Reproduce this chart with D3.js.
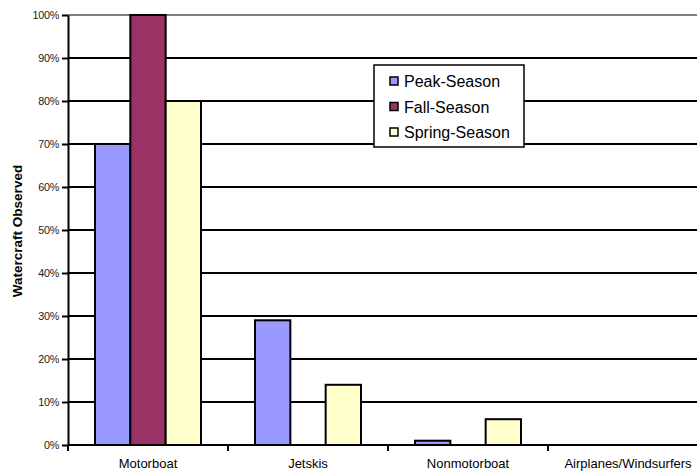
<!DOCTYPE html>
<html><head><meta charset="utf-8">
<script src="https://cdn.jsdelivr.net/npm/d3@7"></script>
<style>body{margin:0;background:#fff}svg{display:block}text{font-family:"Liberation Sans",Arial,sans-serif}</style>
</head><body><div id="chart"></div>
<script>
const categories = ["Motorboat", "Jetskis", "Nonmotorboat", "Airplanes/Windsurfers"];
const seriesNames = ["Peak-Season", "Fall-Season", "Spring-Season"];
const peakSeason = [70, 29, 1, 0];
const fallSeason = [100, 0, 0, 0];
const springSeason = [80, 14, 6, 0];
const seriesColors = ["#9999FF", "#993366", "#FFFFCC"];
const yTicks = [0,10,20,30,40,50,60,70,80,90,100];
const yTitle = "Watercraft Observed";

const W = 697, H = 474;
const m = {left: 68, top: 15, bottom: 29};
const plotRight = 708;
const svg = d3.select("#chart").append("svg").attr("width", W).attr("height", H);
const x = d3.scaleBand().domain(categories).range([m.left, plotRight]).paddingInner(0).paddingOuter(0);
const y = d3.scaleLinear().domain([0, 100]).range([H - m.bottom, m.top]);
const groupW = 106;
const x1b = d3.scaleBand().domain(seriesNames).range([(x.bandwidth()-groupW)/2, (x.bandwidth()+groupW)/2]);

// gridlines
svg.append("g").selectAll("line").data(yTicks.filter(d => d > 0)).join("line")
  .attr("x1", m.left).attr("x2", plotRight)
  .attr("y1", d => Math.round(y(d))).attr("y2", d => Math.round(y(d)))
  .attr("stroke", d => d === 100 ? "#808080" : "#000").attr("stroke-width", 2);

// bars
const data = [peakSeason, fallSeason, springSeason];
const g = svg.append("g");
seriesNames.forEach((s, i) => {
  g.selectAll(null).data(categories.map((c, j) => ({c, v: data[i][j]})).filter(d => d.v > 0)).join("rect")
    .attr("x", d => x(d.c) + x1b(s))
    .attr("y", d => y(d.v))
    .attr("width", x1b.bandwidth())
    .attr("height", d => y(0) - y(d.v))
    .attr("fill", seriesColors[i]).attr("stroke", "#000").attr("stroke-width", 2);
});

// y axis
const yAxis = d3.axisLeft(y).tickValues(yTicks).tickFormat(d => d + "%").tickSize(6).tickSizeOuter(0);
const ya = svg.append("g").attr("transform", `translate(${m.left},0)`).call(yAxis);
ya.select(".domain").attr("stroke", "#000").attr("stroke-width", 2);
ya.selectAll(".tick line").attr("stroke", "#000").attr("stroke-width", 2);
ya.selectAll(".tick text").attr("font-size", 10.8).attr("fill", "#222").attr("x", -9).attr("letter-spacing", -0.3);

// x axis
const xa = svg.append("g").attr("transform", `translate(0,${y(0)})`);
xa.append("line").attr("x1", m.left).attr("x2", plotRight).attr("stroke", "#000").attr("stroke-width", 2);
xa.selectAll(".tk").data(categories).join("line").attr("class", "tk")
  .attr("x1", d => x(d)).attr("x2", d => x(d)).attr("y1", 0).attr("y2", 6)
  .attr("stroke", "#000").attr("stroke-width", 2);
xa.selectAll(".lb").data(categories).join("text").attr("class", "lb")
  .attr("x", d => x(d) + x.bandwidth()/2).attr("y", 23)
  .attr("text-anchor", "middle").attr("font-size", 13).attr("fill", "#000").text(d => d);

// y title
svg.append("text").attr("transform", `translate(22,${(y(0)+y(100))/2 + 1}) rotate(-90)`)
  .attr("text-anchor", "middle").attr("font-size", 13.5).attr("font-weight", "bold").text(yTitle);

// legend
const lg = svg.append("g").attr("transform", "translate(374,65)");
lg.append("rect").attr("width", 150).attr("height", 82).attr("fill", "#fff").attr("stroke", "#000").attr("stroke-width", 1.5);
seriesNames.forEach((s, i) => {
  const yy = 17 + i * 25.5;
  lg.append("rect").attr("x", 16).attr("y", yy - 5).attr("width", 8).attr("height", 8)
    .attr("fill", seriesColors[i]).attr("stroke", "#000").attr("stroke-width", 1.5);
  lg.append("text").attr("x", 30).attr("y", yy + 5).attr("font-size", 16).attr("fill", "#000").text(s);
});
</script></body></html>
